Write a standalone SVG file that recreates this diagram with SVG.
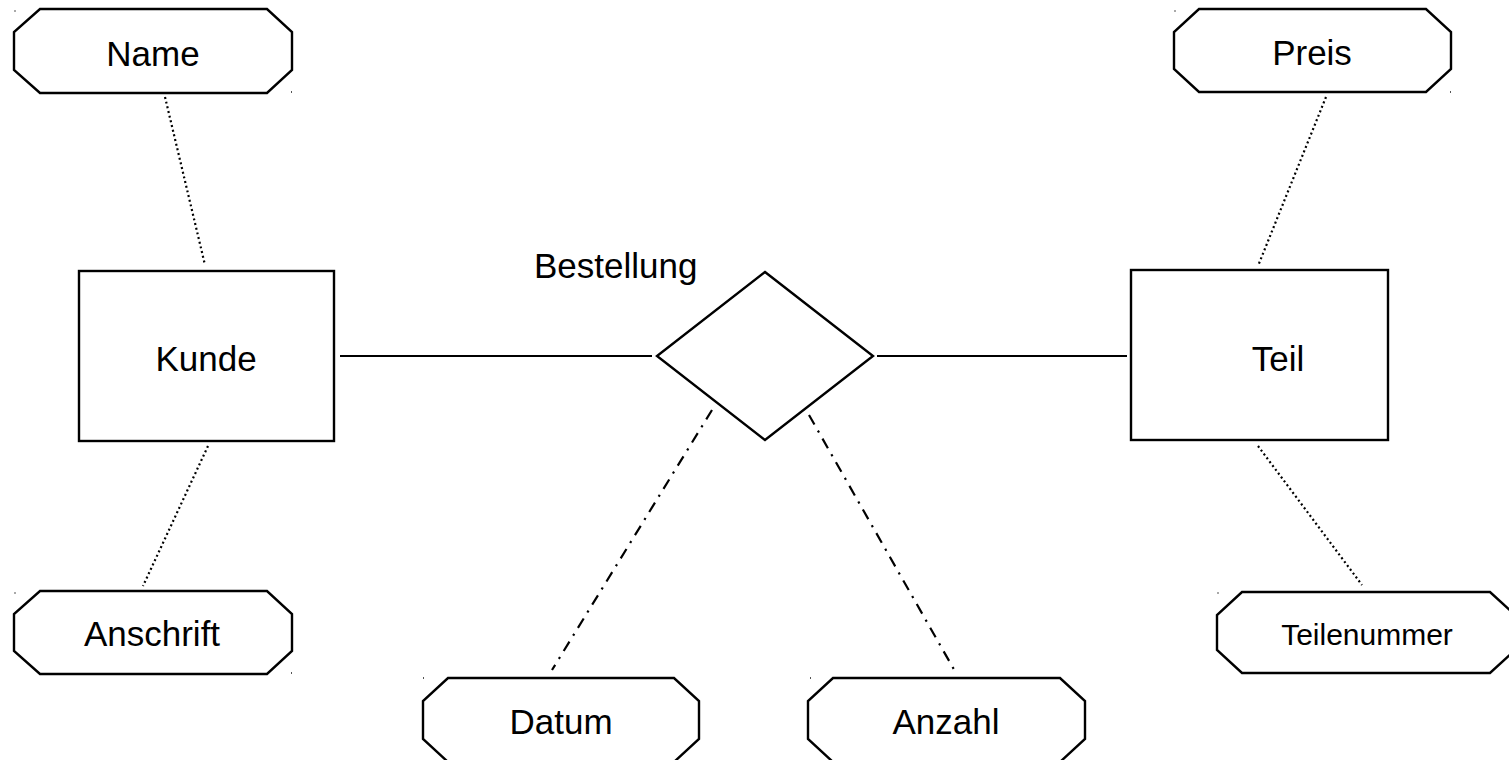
<svg xmlns="http://www.w3.org/2000/svg" width="1509" height="760" viewBox="0 0 1509 760">
<style>
.shape{fill:#fff;stroke:#000;stroke-width:2.4;stroke-linejoin:miter}
.lbl{font-family:"Liberation Sans",Arial,sans-serif;font-size:35px;fill:#000;text-anchor:middle}
.small{font-size:30px}
.solid{stroke:#000;stroke-width:2.2;fill:none}
.dot{stroke:#000;stroke-width:2.2;fill:none;stroke-dasharray:2,2.8}
.dashdot{stroke:#000;stroke-width:2.2;fill:none;stroke-dasharray:11,7,2.2,7}
.tick{fill:#555}
</style>
<rect width="1509" height="760" fill="#fff"/>
<g id="connectors">
<line class="solid" x1="340" y1="356" x2="652" y2="356"/>
<line class="solid" x1="877" y1="356" x2="1127" y2="356"/>
<line class="dot" x1="165" y1="97" x2="205" y2="265"/>
<line class="dot" x1="208" y1="446" x2="143" y2="586"/>
<line class="dot" x1="1326" y1="97" x2="1258" y2="266"/>
<line class="dot" x1="1258" y1="446" x2="1362" y2="585"/>
<line class="dashdot" x1="712" y1="410" x2="552" y2="670"/>
<line class="dashdot" x1="809" y1="415" x2="956" y2="673"/>
</g>
<g id="kunde">
<rect class="shape" x="79" y="271" width="255" height="170"/>
<text class="lbl" x="206" y="371">Kunde</text>
</g>
<g id="teil">
<rect class="shape" x="1131" y="270" width="257" height="170"/>
<text class="lbl" x="1278" y="371">Teil</text>
</g>
<g id="bestellung">
<polygon class="shape" points="765,272 873,356 765,440 657,356"/>
<text class="lbl" x="534" y="278" style="text-anchor:start">Bestellung</text>
</g>
<g id="name">
<path class="shape" d="M40,9 H267 L292,32 V70 L267,93 H40 L14,70 V32 Z"/>
<rect class="tick" x="14.5" y="10" width="1" height="2"/><rect class="tick" x="291" y="91" width="1" height="2"/>
<text class="lbl" x="153" y="66">Name</text>
</g>
<g id="anschrift">
<path class="shape" d="M40,591 H267 L292,614 V651 L267,674 H40 L14,651 V614 Z"/>
<rect class="tick" x="14.5" y="592" width="1" height="2"/><rect class="tick" x="291" y="672" width="1" height="2"/>
<text class="lbl" x="152" y="646">Anschrift</text>
</g>
<g id="datum">
<path class="shape" d="M448,678 H674 L699,701 V739 L674,762 H448 L423,739 V701 Z"/>
<rect class="tick" x="423" y="677" width="1" height="2"/>
<text class="lbl" x="561" y="734">Datum</text>
</g>
<g id="anzahl">
<path class="shape" d="M833,678 H1060 L1085,701 V739 L1060,762 H833 L808,739 V701 Z"/>
<rect class="tick" x="810" y="677" width="1" height="2"/>
<text class="lbl" x="946" y="734">Anzahl</text>
</g>
<g id="preis">
<path class="shape" d="M1199,9 H1426 L1451,32 V69 L1426,92 H1199 L1174,69 V32 Z"/>
<rect class="tick" x="1174.5" y="10" width="1" height="2"/><rect class="tick" x="1450" y="91" width="1" height="2"/>
<text class="lbl" x="1312" y="65">Preis</text>
</g>
<g id="teilenummer">
<path class="shape" d="M1242,592 H1490 L1515,615 V650 L1490,673 H1242 L1217,650 V615 Z"/>
<rect class="tick" x="1217.5" y="592" width="1" height="2"/>
<text class="lbl small" x="1367" y="645">Teilenummer</text>
</g>
</svg>
